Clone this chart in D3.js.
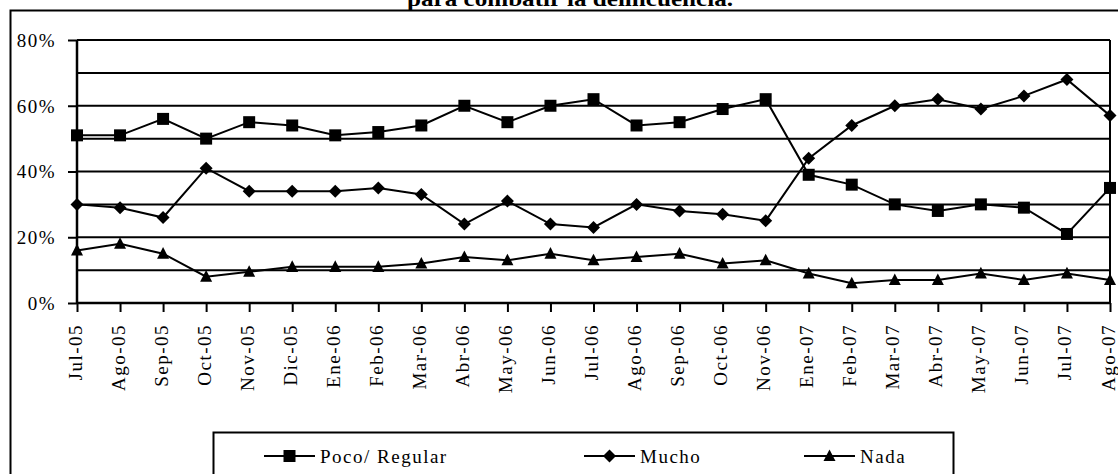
<!DOCTYPE html>
<html>
<head>
<meta charset="utf-8">
<script src="https://cdnjs.cloudflare.com/ajax/libs/d3/7.8.5/d3.min.js"></script>
<style>
  html, body { margin: 0; padding: 0; background: #fff; }
  svg { display: block; }
  text { font-family: "Liberation Serif", "Times New Roman", serif; fill: #000; }
</style>
</head>
<body>
<svg id="chart" width="1118" height="474"></svg>
<script>
const title = "para combatir  la delincuencia.";
const categories = ["Jul-05","Ago-05","Sep-05","Oct-05","Nov-05","Dic-05","Ene-06","Feb-06","Mar-06","Abr-06","May-06","Jun-06","Jul-06","Ago-06","Sep-06","Oct-06","Nov-06","Ene-07","Feb-07","Mar-07","Abr-07","May-07","Jun-07","Jul-07","Ago-07"];
const seriesNames = ["Poco/ Regular", "Mucho", "Nada"];
const poco  = [51,51,56,50,55,54,51,52,54,60,55,60,62,54,55,59,62,39,36,30,28,30,29,21,35];
const mucho = [30,29,26,41,34,34,34,35,33,24,31,24,23,30,28,27,25,44,54,60,62,59,63,68,57];
const nada  = [16,18,15,8,9.5,11,11,11,12,14,13,15,13,14,15,12,13,9,6,7,7,9,7,9,7];
const yTicks = [0, 20, 40, 60, 80];
const yGrid = [10, 20, 30, 40, 50, 60, 70, 80];

const svg = d3.select("#chart");
const W = 1118, H = 474;
const plot = {left: 77, right: 1110, top: 40, bottom: 303};

const x = d3.scalePoint().domain(categories).range([plot.left, plot.right]);
const y = d3.scaleLinear().domain([0, 80]).range([plot.bottom, plot.top]);

// outer chart border (extends beyond the photographed window on right/bottom)
svg.append("path")
  .attr("d", `M10.5,${H + 5} L10.5,10.5 L${W + 5},10.5`)
  .attr("fill", "none").attr("stroke", "#000").attr("stroke-width", 2);

// title (mostly cut off at the top)
svg.append("text")
  .attr("x", 570).attr("y", 6)
  .attr("text-anchor", "middle")
  .attr("font-weight", "bold")
  .attr("font-size", 21)
  .attr("textLength", 326).attr("lengthAdjust", "spacingAndGlyphs")
  .text(title);

// gridlines
svg.append("g").selectAll("line").data(yGrid).join("line")
  .attr("x1", plot.left).attr("x2", plot.right)
  .attr("y1", d => y(d)).attr("y2", d => y(d))
  .attr("stroke", "#000").attr("stroke-width", 2);

// plot right border
svg.append("line")
  .attr("x1", plot.right).attr("x2", plot.right)
  .attr("y1", plot.top).attr("y2", plot.bottom)
  .attr("stroke", "#000").attr("stroke-width", 2);

// y axis
const yAxis = svg.append("g")
  .attr("transform", `translate(${plot.left},0)`)
  .call(d3.axisLeft(y).tickValues(yTicks).tickSize(9).tickPadding(12).tickFormat(d => d + "%"));
yAxis.select(".domain").attr("stroke-width", 2.5).attr("d", `M0,${plot.top}V${plot.bottom}`);
yAxis.selectAll(".tick line").attr("stroke-width", 2);
yAxis.selectAll(".tick text")
  .attr("font-size", 19).attr("letter-spacing", "1.5px")
  .attr("font-family", "Liberation Serif, serif").attr("fill", "#000")
  .attr("dy", "0.34em");

// x axis
const xAxis = svg.append("g")
  .attr("transform", `translate(0,${plot.bottom})`)
  .call(d3.axisBottom(x).tickSize(9).tickPadding(0));
xAxis.select(".domain").attr("stroke-width", 2.5).attr("d", `M${plot.left},0H${plot.right}`);
xAxis.selectAll(".tick line").attr("stroke-width", 2);
xAxis.selectAll(".tick text")
  .attr("font-size", 19).attr("letter-spacing", "1.5px")
  .attr("font-family", "Liberation Serif, serif").attr("fill", "#000")
  .attr("transform", "rotate(-90)")
  .attr("text-anchor", "end")
  .attr("x", -21).attr("y", 0).attr("dy", "4px");

// markers
const squarePath = s => `M${-s/2},${-s/2}h${s}v${s}h${-s}Z`;
const diamondPath = s => `M0,${-s/2}L${s/2},0L0,${s/2}L${-s/2},0Z`;
const trianglePath = s => `M0,${-s*0.55}L${s/2},${s*0.42}L${-s/2},${s*0.42}Z`;

const series = [
  {name: seriesNames[0], values: poco,  marker: squarePath,  size: 12},
  {name: seriesNames[1], values: mucho, marker: diamondPath, size: 13},
  {name: seriesNames[2], values: nada,  marker: trianglePath, size: 12}
];

const line = d3.line().x((d, i) => x(categories[i])).y(d => y(d));

series.forEach(s => {
  const g = svg.append("g");
  g.append("path").datum(s.values)
    .attr("d", line).attr("fill", "none")
    .attr("stroke", "#000").attr("stroke-width", 2);
  g.selectAll("path.m").data(s.values).join("path")
    .attr("class", "m")
    .attr("transform", (d, i) => `translate(${x(categories[i])},${y(d)})`)
    .attr("d", s.marker(s.size)).attr("fill", "#000");
});

// legend
svg.append("rect")
  .attr("x", 213.5).attr("y", 432.5).attr("width", 740).attr("height", 60)
  .attr("fill", "none").attr("stroke", "#000").attr("stroke-width", 2);

const legendX = [264, 584, 804];
series.forEach((s, i) => {
  const lx = legendX[i], ly = 456;
  svg.append("line").attr("x1", lx).attr("x2", lx + 51).attr("y1", ly).attr("y2", ly)
    .attr("stroke", "#000").attr("stroke-width", 2);
  svg.append("path").attr("transform", `translate(${lx + 25.5},${ly})`)
    .attr("d", s.marker(s.size)).attr("fill", "#000");
  svg.append("text").attr("x", lx + 56).attr("y", ly + 6.5)
    .attr("font-size", 19).attr("letter-spacing", "1.5px")
    .text(s.name);
});
</script>
</body>
</html>
